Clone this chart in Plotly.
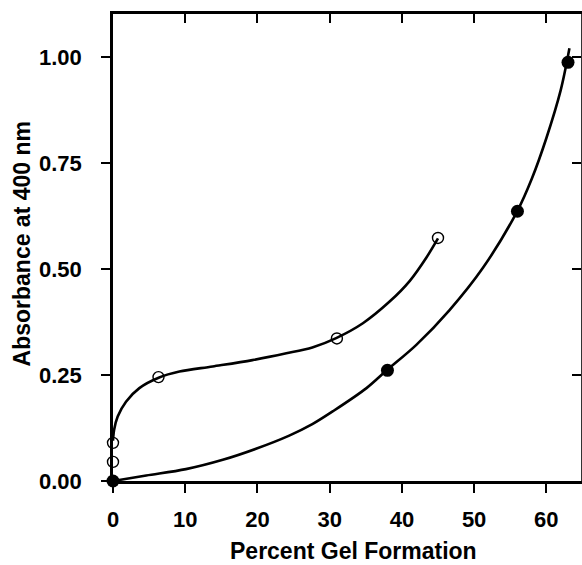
import plotly.graph_objects as go

# Measured points
open_x = [0, 0, 6.3, 31, 45]
open_y = [0.045, 0.09, 0.245, 0.336, 0.573]
filled_x = [0, 38, 56, 63]
filled_y = [0.0, 0.261, 0.636, 0.987]

# Fitted curves
open_curve_x = [0, 0.15, 0.65, 1.8, 3.65, 6.4, 9.2, 13.8, 19.3, 24.0, 27.6, 30.9, 34.6, 38.3, 41.1, 43.4, 45.0]
open_curve_y = [0.095, 0.12, 0.152, 0.187, 0.219, 0.244, 0.258, 0.27, 0.285, 0.301, 0.315, 0.337, 0.372, 0.423, 0.472, 0.527, 0.572]
filled_curve_x = [0, 4.6, 10.1, 15.2, 19.8, 24.4, 27.6, 30.5, 35.1, 37.9, 42.0, 46.6, 51.2, 56.0, 58.0, 60.0, 62.0, 63.2]
filled_curve_y = [0, 0.013, 0.028, 0.05, 0.076, 0.107, 0.134, 0.165, 0.219, 0.261, 0.321, 0.403, 0.502, 0.637, 0.713, 0.808, 0.922, 1.02]

x_ticks = [0, 10, 20, 30, 40, 50, 60]
y_ticks = [0.0, 0.25, 0.5, 0.75, 1.0]
y_tick_labels = ["0.00", "0.25", "0.50", "0.75", "1.00"]
x_title = "Percent Gel Formation"
y_title = "Absorbance at 400 nm"

XR = [0, 64.8]
YR = [0, 1.101]
FONT = "Liberation Sans, Arial, sans-serif"

fig = go.Figure()
fig.add_trace(go.Scatter(x=open_curve_x, y=open_curve_y, mode="lines",
                         line=dict(color="black", width=2.6, shape="spline", smoothing=0.9),
                         hoverinfo="skip", showlegend=False))
fig.add_trace(go.Scatter(x=filled_curve_x, y=filled_curve_y, mode="lines",
                         line=dict(color="black", width=2.6, shape="spline", smoothing=0.9),
                         hoverinfo="skip", showlegend=False))
fig.add_trace(go.Scatter(x=open_x, y=open_y, mode="markers", cliponaxis=False,
                         marker=dict(symbol="circle-open", size=11, color="black", line=dict(width=1.4)),
                         showlegend=False))
fig.add_trace(go.Scatter(x=filled_x, y=filled_y, mode="markers", cliponaxis=False,
                         marker=dict(symbol="circle", size=13, color="black"),
                         showlegend=False))
fig.add_trace(go.Scatter(x=[None], y=[None], xaxis="x2", yaxis="y2", showlegend=False))

tickfont = dict(family=FONT, size=22, color="black", weight="bold")

fig.update_layout(
    width=582, height=565,
    margin=dict(l=113, r=1, t=14, b=84),
    paper_bgcolor="white", plot_bgcolor="white",
    font=dict(family=FONT, color="black"),
    xaxis=dict(range=XR, tickvals=x_ticks, ticks="outside", ticklen=9, tickwidth=1.6,
               tickcolor="black", showline=True, linecolor="black", linewidth=2.6,
               showgrid=False, zeroline=False, tickfont=tickfont, ticklabelstandoff=8),
    yaxis=dict(range=YR, tickvals=y_ticks, ticktext=y_tick_labels, ticks="outside", ticklen=9,
               tickwidth=1.6, tickcolor="black", showline=True, linecolor="black", linewidth=2.6,
               showgrid=False, zeroline=False, tickfont=tickfont, ticklabelstandoff=15),
    xaxis2=dict(range=XR, overlaying="x", side="top", anchor="y", tickvals=x_ticks, ticks="inside",
                ticklen=9, tickwidth=1.6, tickcolor="black", showticklabels=False, showline=True,
                linecolor="black", linewidth=2.6, showgrid=False, zeroline=False),
    yaxis2=dict(range=YR, overlaying="y", side="right", anchor="x", tickvals=y_ticks, ticks="inside",
                ticklen=9, tickwidth=1.6, tickcolor="black", showticklabels=False, showline=True,
                linecolor="#333", linewidth=2, showgrid=False, zeroline=False),
    annotations=[
        dict(text=x_title, xref="paper", yref="paper", x=0.513, y=-0.150, xanchor="center",
             yanchor="middle", showarrow=False, borderpad=0,
             font=dict(family=FONT, size=23, color="black", weight="bold")),
        dict(text=y_title, xref="paper", yref="paper", x=-0.194, y=0.507, xanchor="center",
             yanchor="middle", textangle=-90, showarrow=False,
             font=dict(family=FONT, size=23, color="black", weight="bold")),
    ],
)

fig.write_html("out.html", config={"displayModeBar": False},
               post_script="document.body.style.margin='0';document.body.style.overflow='hidden';")
